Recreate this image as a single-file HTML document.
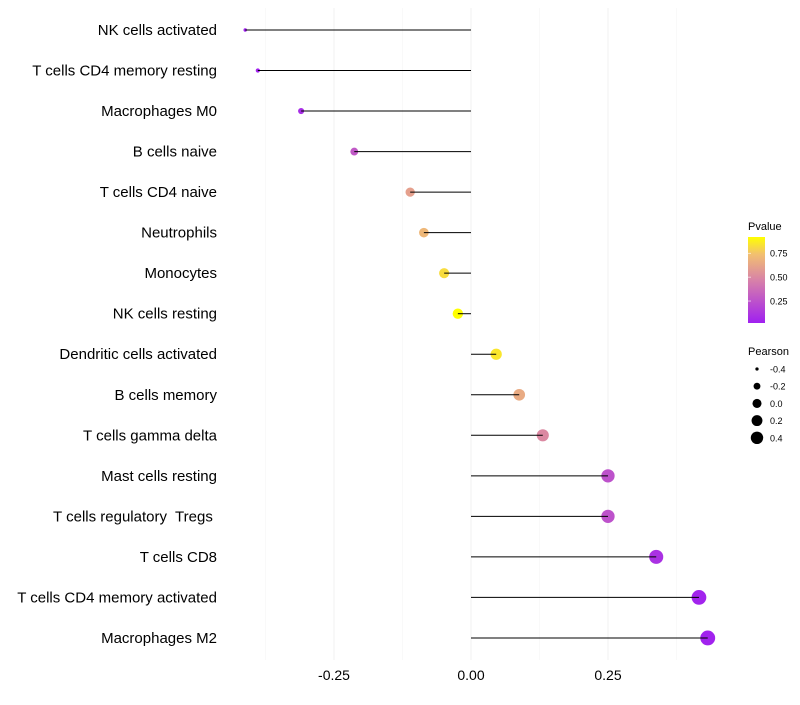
<!DOCTYPE html>
<html><head><meta charset="utf-8"><style>
body{margin:0;background:#fff;font-family:"Liberation Sans",sans-serif;}
text{white-space:pre;}
</style></head><body>
<svg id="chart" width="800" height="700" xmlns="http://www.w3.org/2000/svg">
<defs><linearGradient id="pg" x1="0" y1="1" x2="0" y2="0">
<stop offset="0" stop-color="#A020F0"/><stop offset="0.5" stop-color="#D882A8"/><stop offset="0.8" stop-color="#F2C070"/><stop offset="1" stop-color="#FFFF00"/>
</linearGradient></defs>
<g id="grid"></g><g id="points"></g><g id="marks"></g><g id="labels"></g>
<g>
<text x="748" y="230" font-size="11" fill="#000">Pvalue</text>
<rect x="748" y="237" width="17" height="86" fill="url(#pg)"/>
<g id="cbticks"></g>
<text x="748" y="355" font-size="11" fill="#000">Pearson</text>
<g id="sizeleg"></g>
</g>
</svg>
<script>
const categories=["NK cells activated","T cells CD4 memory resting","Macrophages M0","B cells naive","T cells CD4 naive","Neutrophils","Monocytes","NK cells resting","Dendritic cells activated","B cells memory","T cells gamma delta","Mast cells resting","T cells regulatory  Tregs ","T cells CD8","T cells CD4 memory activated","Macrophages M2"];
const pearson=[-0.412,-0.389,-0.310,-0.213,-0.111,-0.086,-0.049,-0.024,0.046,0.088,0.131,0.250,0.250,0.338,0.416,0.432];
const pvalues=[0.02,0.03,0.08,0.28,0.60,0.70,0.82,0.92,0.85,0.65,0.50,0.25,0.25,0.10,0.04,0.03];
const xTicks=[-0.25,0,0.25];
const xTickLabels=["-0.25","0.00","0.25"];
const cbTicks=[0.25,0.5,0.75];
const sizeLegend=[-0.4,-0.2,0,0.2,0.4];
const NS="http://www.w3.org/2000/svg";
const x=v=>471+v*548;
const y=i=>30+i*40.53;
const r=v=>Math.sqrt(2.5+62*(v+0.42));
const cby=p=>323-(p-0.02)/(0.92-0.02)*86;
function lerp(a,b,t){return a.map((c,k)=>Math.round(c+(b[k]-c)*t));}
const stops=[[0,[160,32,240]],[0.5,[216,130,168]],[0.8,[242,192,112]],[1,[255,255,0]]];
function color(p){let t=Math.max(0,Math.min(1,(p-0.02)/0.9));for(let k=1;k<stops.length;k++){if(t<=stops[k][0]){const a=stops[k-1],b=stops[k];const c=lerp(a[1],b[1],(t-a[0])/(b[0]-a[0]));return `rgb(${c})`;}}return "rgb(255,255,0)";}
function mk(tag,attrs,parent){const e=document.createElementNS(NS,tag);for(const k in attrs)e.setAttribute(k,attrs[k]);parent.appendChild(e);return e;}
const grid=document.getElementById('grid'),marks=document.getElementById('marks'),points=document.getElementById('points'),labels=document.getElementById('labels');
[-0.375,-0.125,0.125,0.375].forEach(v=>{const l=mk('line',{x1:x(v),x2:x(v),y1:8,y2:660,stroke:'#f5f5f5','stroke-width':0.6},grid);

});
xTicks.forEach((v,i)=>{const l=mk('line',{x1:x(v),x2:x(v),y1:8,y2:660,stroke:'#f0f0f0','stroke-width':1},grid);


const t=mk('text',{x:x(v),y:680,'text-anchor':'middle','font-size':14,fill:'#000'},labels);t.textContent=xTickLabels[i];

});
categories.forEach((c,i)=>{const yy=y(i);
const p=mk('circle',{cx:x(pearson[i]),cy:yy,r:r(pearson[i]),fill:color(pvalues[i])},points);


const s=mk('line',{x1:x(0),x2:x(pearson[i]),y1:yy,y2:yy,stroke:'#000','stroke-width':1},marks);


const t=mk('text',{x:217,y:yy+5,'text-anchor':'end','font-size':15,fill:'#000'},labels);t.textContent=c;

});
const cbt=document.getElementById('cbticks');
cbTicks.forEach(p=>{const yy=cby(p);
const l=mk('line',{x1:748,x2:751,y1:yy,y2:yy,stroke:'#fff','stroke-width':0.6},cbt);


const t=mk('text',{x:770,y:yy+3.5,'font-size':9,fill:'#000'},cbt);t.textContent=p.toFixed(2);

});
const sl=document.getElementById('sizeleg');
sizeLegend.forEach((v,i)=>{const yy=369+i*17.2;
const c=mk('circle',{cx:757,cy:yy,r:r(v)*0.85,fill:'#000'},sl);


const t=mk('text',{x:770,y:yy+3.5,'font-size':9,fill:'#000'},sl);t.textContent=v.toFixed(1);

});
</script>
</body></html>
